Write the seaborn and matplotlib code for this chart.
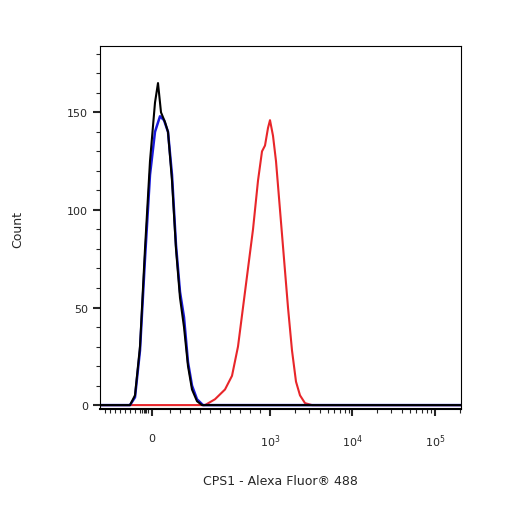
import numpy as np
import matplotlib
matplotlib.use("Agg")
import matplotlib.pyplot as plt
import seaborn as sns

# x in display channel units (0 = left edge of plot), counts
black_x = [0, 30, 35, 40, 45, 50, 55, 58, 61, 65, 68, 72, 76, 80, 84, 88, 92, 97, 102, 361]
black_y = [0, 0, 5, 30, 80, 125, 155, 165, 150, 145, 140, 115, 80, 55, 40, 20, 8, 2, 0, 0]
blue_x = [0, 30, 35, 40, 45, 50, 55, 60, 64, 68, 72, 76, 80, 84, 88, 92, 97, 103, 361]
blue_y = [0, 0, 4, 28, 75, 118, 140, 148, 146, 140, 118, 82, 58, 45, 22, 10, 3, 0, 0]
red_x = [0, 105, 115, 125, 132, 138, 143, 148, 153, 158, 162, 165, 168, 170, 173, 176,
         180, 184, 188, 192, 196, 200, 205, 212, 361]
red_y = [0, 0, 3, 8, 15, 30, 50, 70, 90, 115, 130, 133, 142, 146, 138, 125,
         100, 75, 50, 28, 12, 5, 1, 0, 0]

tick_pos = [52, 170, 252, 335]
tick_labels = ["0", "$10^3$", "$10^4$", "$10^5$"]

sns.set_style("white")
fig = plt.figure(figsize=(5.06, 5.06), dpi=100)
ax = fig.add_axes([100 / 506, 96 / 506, 361 / 506, 363 / 506])

sns.lineplot(x=red_x, y=red_y, color="#e8262a", lw=1.5, ax=ax)
sns.lineplot(x=blue_x, y=blue_y, color="#1a1adc", lw=1.8, ax=ax)
sns.lineplot(x=black_x, y=black_y, color="black", lw=1.5, ax=ax)

ax.set_xticks(tick_pos)
ax.set_xticklabels(tick_labels, fontsize=9)
dec = 82.5
minor = []
for base in [170, 252]:
    minor += [base + dec * np.log10(m) for m in range(2, 10)]
minor += [335 + dec * np.log10(m) for m in range(2, 4)]
minor += [70 + 10 * i for i in range(10)]
minor += [5 + 5 * i for i in range(9)] + [42, 44, 46, 48]
ax.set_xticks(minor, minor=True)
ax.set_yticks([0, 50, 100, 150])
ax.set_yticks(range(0, 181, 10), minor=True)
ax.set_xlim(0, 361)
ax.set_ylim(-2, 184)
ax.tick_params(axis="both", which="major", direction="out", length=5, width=1.5,
               labelsize=8, bottom=True, left=True)
ax.tick_params(axis="x", which="major", pad=12)
ax.tick_params(axis="both", which="minor", direction="out", length=3, width=0.8,
               bottom=True, left=True)
for s in ax.spines.values():
    s.set_color("black")
    s.set_linewidth(0.8)
ax.spines["bottom"].set_linewidth(1.5)

ax.set_xlabel("CPS1 - Alexa Fluor\u00ae 488", fontsize=9, labelpad=18)
fig.text(18 / 506, 1 - 230 / 506, "Count", rotation=90, fontsize=9, va="center", ha="center")
fig.savefig("out.png", dpi=100)
